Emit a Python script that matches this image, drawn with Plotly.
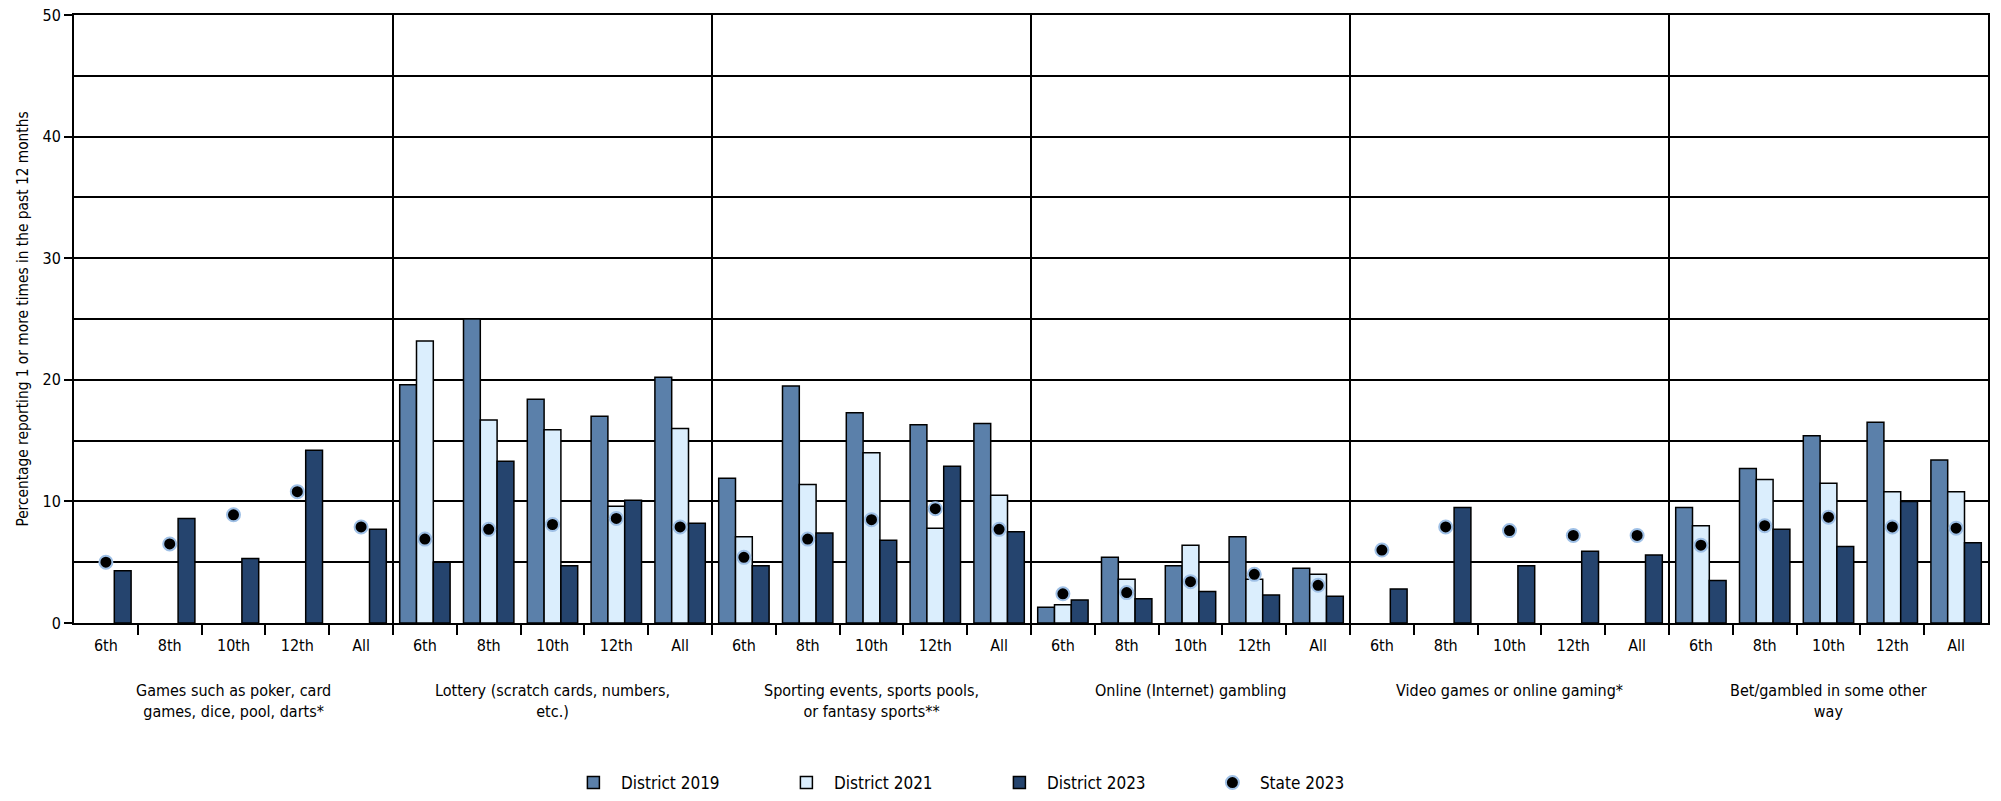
import plotly.graph_objects as go

grades = ["6th", "8th", "10th", "12th", "All"]
groups = [
    "Games such as poker, card<br>games, dice, pool, darts*",
    "Lottery (scratch cards, numbers,<br>etc.)",
    "Sporting events, sports pools,<br>or fantasy sports**",
    "Online (Internet) gambling",
    "Video games or online gaming*",
    "Bet/gambled in some other<br>way",
]

district_2019 = [None, None, None, None, None,
                 19.6, 25.0, 18.4, 17.0, 20.2,
                 11.9, 19.5, 17.3, 16.3, 16.4,
                 1.3, 5.4, 4.7, 7.1, 4.5,
                 None, None, None, None, None,
                 9.5, 12.7, 15.4, 16.5, 13.4]
district_2021 = [None, None, None, None, None,
                 23.2, 16.7, 15.9, 9.6, 16.0,
                 7.1, 11.4, 14.0, 7.8, 10.5,
                 1.5, 3.6, 6.4, 3.6, 4.0,
                 None, None, None, None, None,
                 8.0, 11.8, 11.5, 10.8, 10.8]
district_2023 = [4.3, 8.6, 5.3, 14.2, 7.7,
                 5.0, 13.3, 4.7, 10.1, 8.2,
                 4.7, 7.4, 6.8, 12.9, 7.5,
                 1.9, 2.0, 2.6, 2.3, 2.2,
                 2.8, 9.5, 4.7, 5.9, 5.6,
                 3.5, 7.7, 6.3, 10.0, 6.6]
state_2023 = [5.0, 6.5, 8.9, 10.8, 7.9,
              6.9, 7.7, 8.1, 8.6, 7.9,
              5.4, 6.9, 8.5, 9.4, 7.7,
              2.4, 2.5, 3.4, 4.0, 3.1,
              6.0, 7.9, 7.6, 7.2, 7.2,
              6.4, 8.0, 8.7, 7.9, 7.8]

n_groups = len(groups)
n_grades = len(grades)
xs = list(range(n_groups * n_grades))
tick_text = grades * n_groups

FONT = "Liberation Sans Narrow, DejaVu Sans Condensed, Arial Narrow, sans-serif"
C2019 = "#5b80aa"
C2021 = "#dbeefd"
C2023 = "#25446e"

fig = go.Figure()
for name, vals, col in [("District 2019", district_2019, C2019),
                        ("District 2021", district_2021, C2021),
                        ("District 2023", district_2023, C2023)]:
    fig.add_trace(go.Bar(x=xs, y=vals, name=name,
                         marker=dict(color=col, line=dict(color="black", width=1.5))))

fig.add_trace(go.Scatter(x=xs, y=state_2023, mode="markers", name="State 2023",
                         marker=dict(color="black", size=13,
                                     line=dict(color="#9fc0e6", width=2))))

# group separators
for g in range(1, n_groups):
    fig.add_shape(type="line", xref="x", yref="paper",
                  x0=g * n_grades - 0.5, x1=g * n_grades - 0.5, y0=-0.018, y1=1,
                  line=dict(color="black", width=2), layer="above")

# group labels
for g, label in enumerate(groups):
    fig.add_annotation(x=g * n_grades + (n_grades - 1) / 2, xref="x",
                       y=-0.092, yref="paper", yanchor="top",
                       text=label, showarrow=False,
                       font=dict(family=FONT, size=16, color="black"))

fig.update_layout(
    width=2001, height=801,
    margin=dict(l=74, r=13, t=15, b=178, autoexpand=False),
    plot_bgcolor="white", paper_bgcolor="white",
    barmode="group", bargap=0.21, bargroupgap=0,
    font=dict(family=FONT, size=16, color="black"),
    showlegend=True,
    legend=dict(orientation="h", x=0.257, xanchor="left",
                yref="container", y=0.0225, yanchor="middle",
                font=dict(family=FONT, size=17, color="black"),
                itemwidth=45, entrywidth=153, entrywidthmode="pixels",
                traceorder="normal"),
    xaxis=dict(range=[-0.5, len(xs) - 0.5], tickmode="array", tickvals=xs,
               ticktext=tick_text, ticks="", showgrid=False, ticklabelstandoff=7,
               showline=True, linecolor="black", linewidth=2, mirror=True,
               tickfont=dict(family=FONT, size=16, color="black"),
               minor=dict(tickmode="array", tickvals=[v - 0.5 for v in xs[1:]],
                          ticks="outside", ticklen=10, tickcolor="black",
                          tickwidth=2, showgrid=False),
               zeroline=False, automargin=False),
    yaxis=dict(range=[0, 50], tickmode="linear", tick0=0, dtick=10,
               ticks="outside", ticklen=8, tickcolor="black", tickwidth=1.5,
               showgrid=True, gridcolor="black", gridwidth=1.5,
               minor=dict(dtick=5, showgrid=True, gridcolor="black", gridwidth=1.5),
               showline=True, linecolor="black", linewidth=2, mirror=True,
               zeroline=False, automargin=False,
               tickfont=dict(family=FONT, size=16, color="black"),
               title=dict(text="Percentage reporting 1 or more times in the past 12 months",
                          font=dict(family=FONT, size=15.3, color="black"), standoff=10)),
)

fig.write_html("out.html", config={"displayModeBar": False},
               post_script="document.body.style.margin='0';document.body.style.overflow='hidden';")
